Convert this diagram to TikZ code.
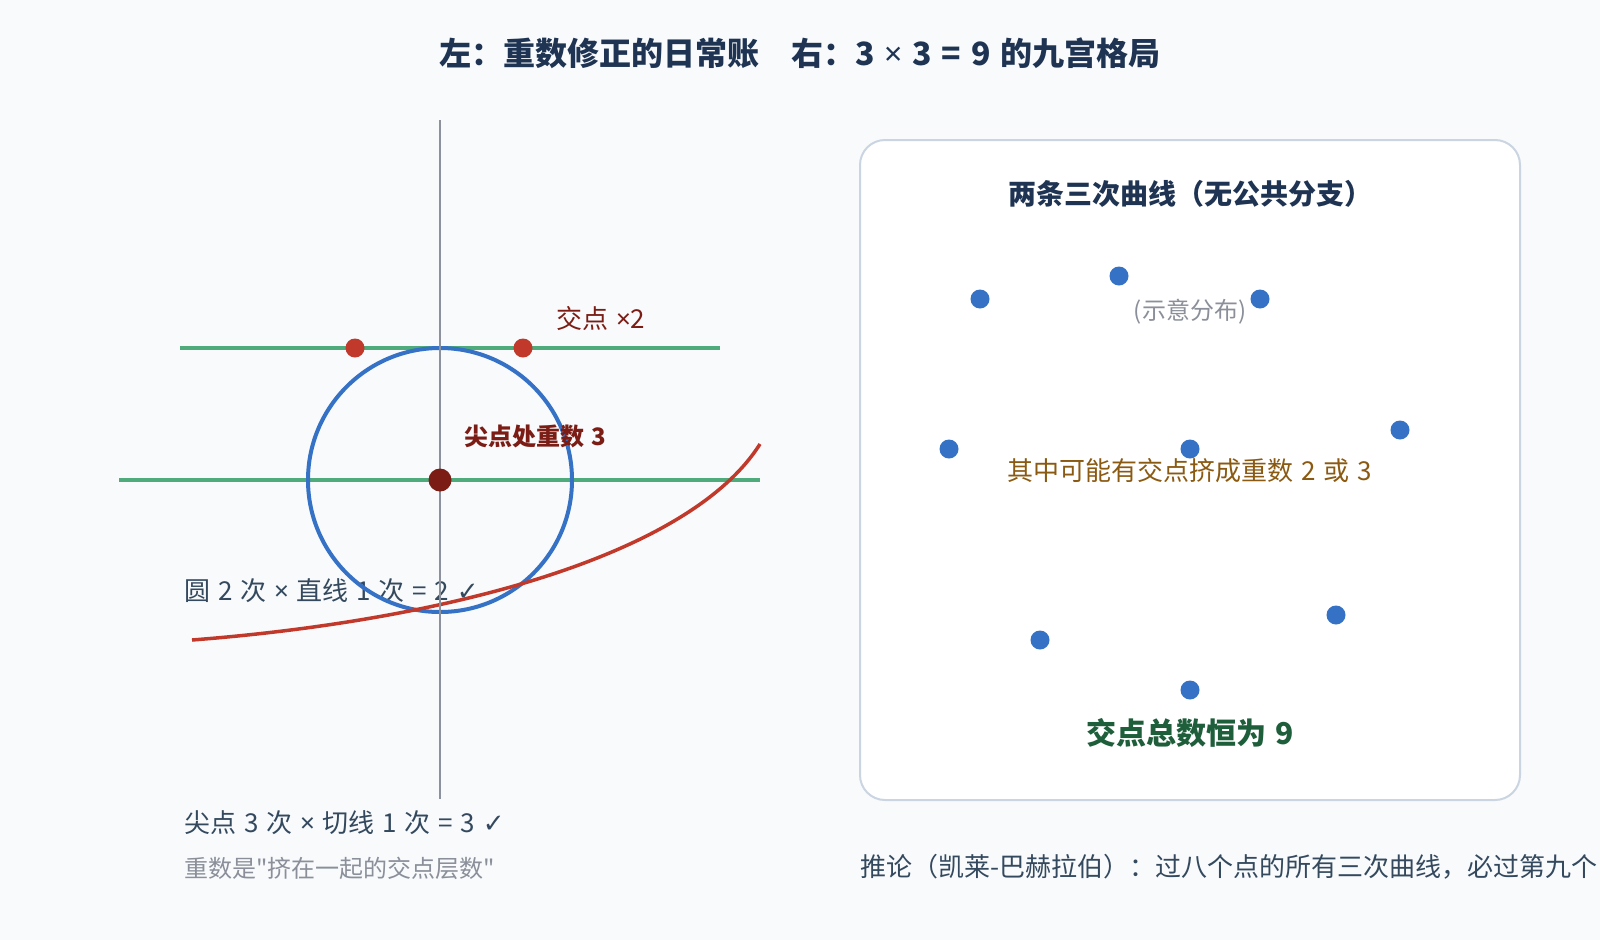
\documentclass[tikz,border=0pt]{standalone}
\usepackage{fontspec}
\setmainfont{Noto Sans CJK SC}[Ligatures=TeXOff]
\newfontfamily\symfont{DejaVu Sans}
\newfontfamily\latinfont{Noto Sans}
\newcommand{\pxsize}[1]{\fontsize{#1}{#1}\selectfont\spaceskip=.3em\relax}
\newcommand{\timessym}{{\latinfont ×}}
\definecolor{bgcol}{HTML}{F8FAFC}
\definecolor{titlecol}{HTML}{1E3452}
\definecolor{axiscol}{HTML}{8C919B}
\definecolor{greencol}{HTML}{4FAA7C}
\definecolor{bluecol}{HTML}{3572C6}
\definecolor{redcol}{HTML}{C0392B}
\definecolor{darkred}{HTML}{7B1D15}
\definecolor{textcol}{HTML}{34495E}
\definecolor{graycol}{HTML}{8A8F99}
\definecolor{browncol}{HTML}{8B5A12}
\definecolor{greentext}{HTML}{1E5E3A}
\definecolor{boxcol}{HTML}{CBD5E1}
\begin{document}
\begin{tikzpicture}[x=1pt,y=-1pt,
	lbl/.style={inner sep=0pt,font=\pxsize{26}},
	reddot/.style={circle,fill=redcol,inner sep=0pt,minimum size=19pt},
	bluedot/.style={circle,fill=bluecol,inner sep=0pt,minimum size=19pt}]
		\fill[bgcol] (0,0) rectangle (1600,940);
		\useasboundingbox (0,0) rectangle (1600,940);
		\node[lbl,font=\pxsize{32}\bfseries,text=titlecol] (title) at (800,53) {左：重数修正的日常账　右：3 \timessym{} 3 = 9 的九宫格局};
		% left: circle, tangent lines, cuspidal cubic
		\node[lbl,anchor=west,text=textcol] (circeq) at (184,591) {圆 2 次 \timessym{} 直线 1 次 = 2 {\symfont ✓}};
		\draw[greencol,line width=3.5pt] (180,348) -- (720,348);
		\draw[greencol,line width=3.5pt] (119,480) -- (760,480);
		\draw[bluecol,line width=4pt] (440,480) circle (132);
		\draw[redcol,line width=3.5pt] (192,640) .. controls (450,620) and (690,555) .. (760,444);
		\coordinate (axtop) at (440,120);
		\coordinate (axbot) at (440,799);
		\draw[axiscol,line width=2.5pt] (axtop) -- (axbot);
		\node[reddot] (tl) at (355,348) {};
		\node[reddot] (tr) at (523,348) {};
		\node[circle,fill=darkred,inner sep=0pt,minimum size=23pt] (cusp) at (440,480) {};
		\node[lbl,anchor=west,text=darkred] (twice) at (556,319) {交点 \timessym2};
		\node[lbl,anchor=west,font=\pxsize{24}\bfseries,text=darkred] (mult) at (464,436) {尖点处重数 3};
		\node[lbl,anchor=west,text=textcol] (cuspeq) at (184,823) {尖点 3 次 \timessym{} 切线 1 次 = 3 {\symfont ✓}};
		\node[lbl,anchor=west,font=\pxsize{24},text=graycol] (note) at (184,868) {重数是"挤在一起的交点层数"};
		% right: nine points of two cubics
		\node[draw=boxcol,fill=white,line width=2pt,rounded corners=25pt,minimum width=660pt,minimum height=660pt] (panel) at (1190,470) {};
		\node[lbl,font=\pxsize{28}\bfseries,text=titlecol] (cubics) at (1190,194) {两条三次曲线（无公共分支）};
		\foreach \i/\px/\py in {1/980/299,2/1119/276,3/1260/299,4/949/449,5/1190/449,6/1400/430,7/1040/640,8/1336/615,9/1190/690}
			\node[bluedot] (p\i) at (\px,\py) {};
		\node[lbl,font=\pxsize{24},text=graycol] (sketch) at (1190,312) {(示意分布)};
		\node[lbl,text=browncol] (merge) at (1190,471) {其中可能有交点挤成重数 2 或 3};
		\node[lbl,font=\pxsize{30}\bfseries,text=greentext] (total) at (1190,733) {交点总数恒为 9};
		\node[lbl,anchor=west,text=textcol] (corollary) at (860,867) {推论（凯莱-巴赫拉伯）：过八个点的所有三次曲线，必过第九个};
\end{tikzpicture}
\end{document}
